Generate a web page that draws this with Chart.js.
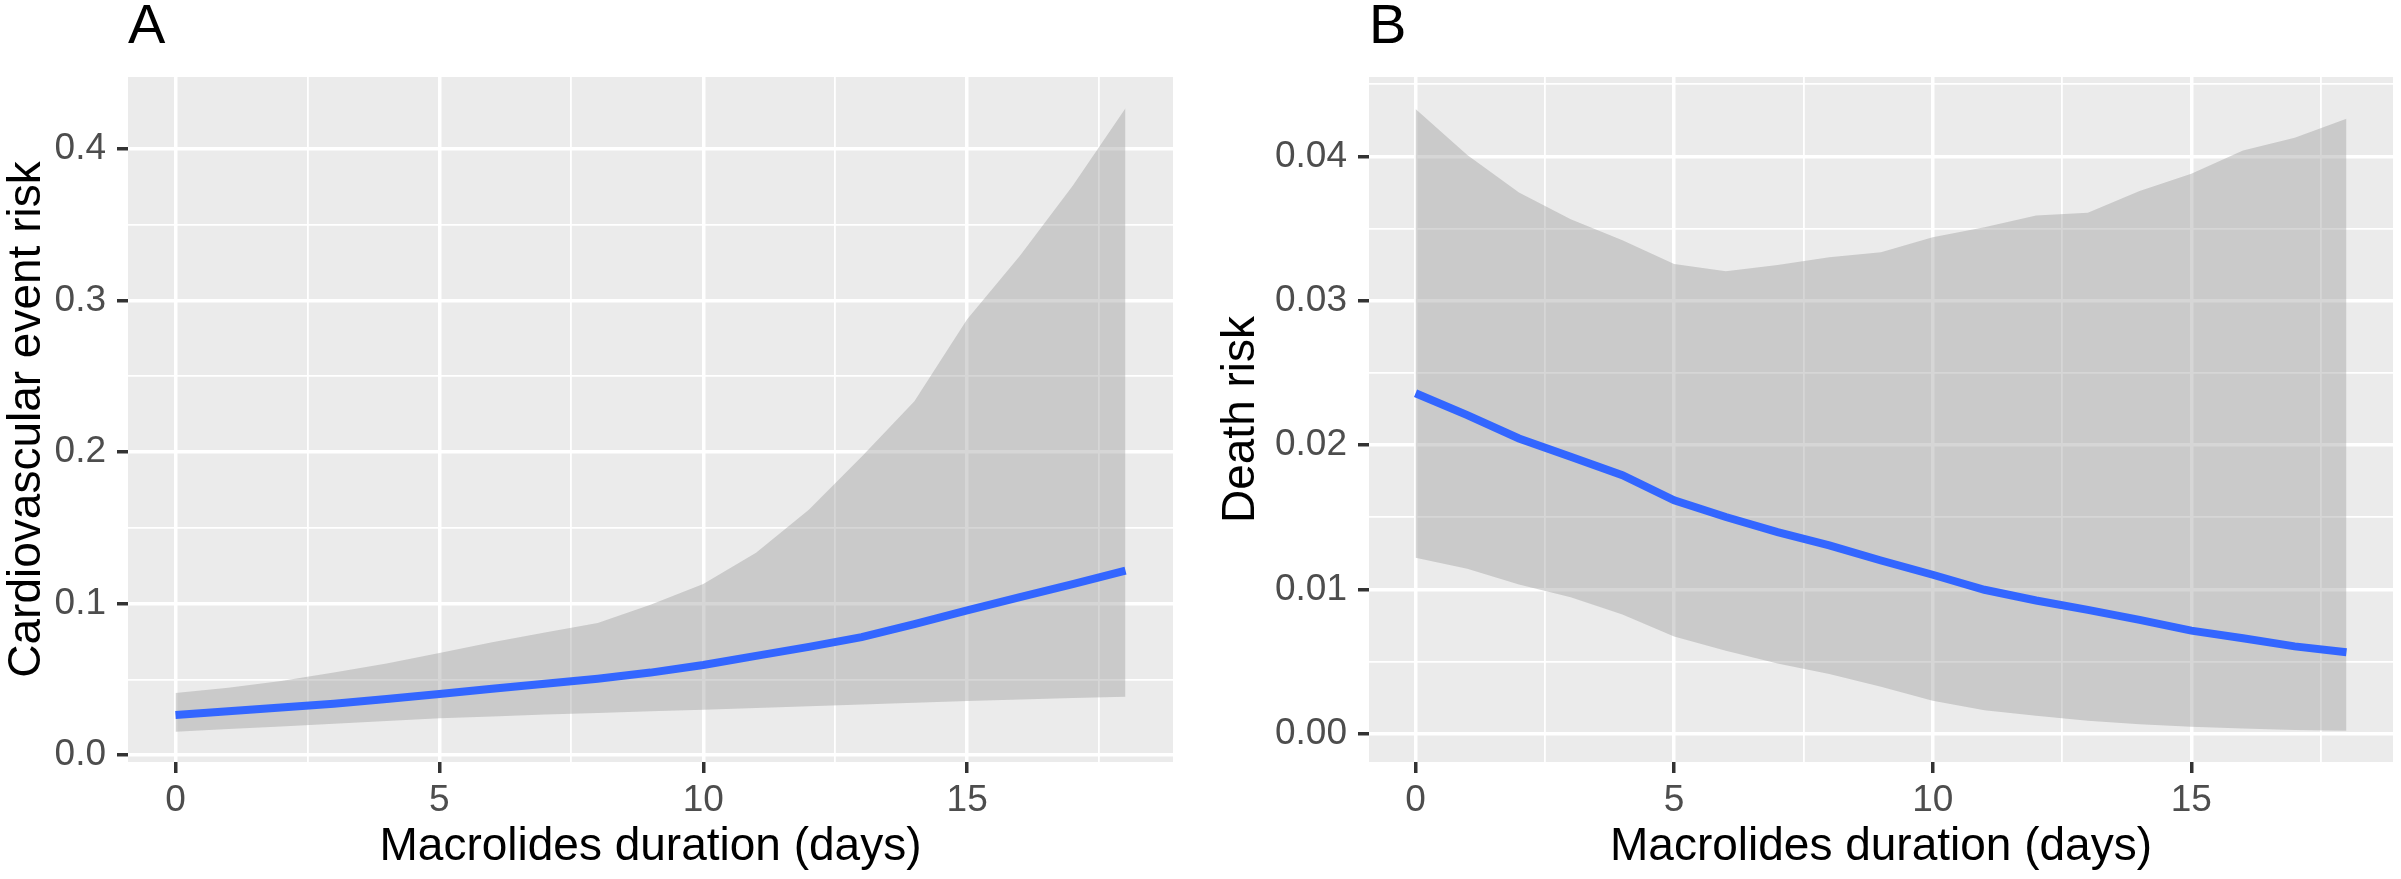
<!DOCTYPE html>
<html>
<head>
<meta charset="utf-8">
<script src="https://cdn.jsdelivr.net/npm/chart.js@4.4.1/dist/chart.umd.min.js"></script>
<style>
  html, body { margin: 0; padding: 0; background: #fff; }
  #wrap { position: relative; width: 2401px; height: 879px; overflow: hidden; }
  canvas { position: absolute; top: 0; }
  #panelA { left: 0; }
  #panelB { left: 1200px; }
</style>
</head>
<body>
<div id="wrap">
  <canvas id="panelA" width="1200" height="879"></canvas>
  <canvas id="panelB" width="1201" height="879"></canvas>
</div>
<script>
// days of macrolide use (x axis, same for both panels)
const DAYS = [0, 1, 2, 3, 4, 5, 6, 7, 8, 9, 10, 11, 12, 13, 14, 15, 16, 17, 18];

// panel A - cardiovascular event risk, fitted line + confidence band
const CV_RISK  = [0.0265, 0.029, 0.0315, 0.034, 0.037, 0.0403, 0.0438, 0.0472, 0.0505, 0.0545, 0.0595, 0.0655, 0.0715, 0.0779, 0.0865, 0.0955, 0.1043, 0.1128, 0.1217];
const CV_UPPER = [0.041, 0.0445, 0.049, 0.0545, 0.0605, 0.0675, 0.0745, 0.081, 0.0873, 0.0992, 0.113, 0.1335, 0.162, 0.197, 0.2336, 0.2876, 0.3295, 0.3757, 0.4269];
const CV_LOWER = [0.0155, 0.0173, 0.019, 0.0208, 0.0226, 0.0244, 0.0256, 0.0268, 0.0279, 0.029, 0.030, 0.0312, 0.0323, 0.0335, 0.0346, 0.0358, 0.0368, 0.0377, 0.0385];

// panel B - death risk
const DEATH_RISK  = [0.02359, 0.02208, 0.02046, 0.01919, 0.01792, 0.01618, 0.01502, 0.01398, 0.01306, 0.01201, 0.01102, 0.00998, 0.00924, 0.00859, 0.00789, 0.00715, 0.00662, 0.00606, 0.00565];
const DEATH_UPPER = [0.04329, 0.0401, 0.0375, 0.03565, 0.0342, 0.03255, 0.03204, 0.03248, 0.03301, 0.03336, 0.0344, 0.0351, 0.0359, 0.0361, 0.0376, 0.0388, 0.0404, 0.0413, 0.0426];
const DEATH_LOWER = [0.0122, 0.01144, 0.01035, 0.00947, 0.00826, 0.00674, 0.00576, 0.00488, 0.00414, 0.00326, 0.00229, 0.00164, 0.00125, 0.0009, 0.00067, 0.00049, 0.00037, 0.00026, 0.00021];

// tick values and labels
const X_TICKS = [0, 5, 10, 15];
const X_LABELS = ["0", "5", "10", "15"];
const X_MINOR = [2.5, 7.5, 12.5, 17.5];
const CV_TICKS = [0, 0.1, 0.2, 0.3, 0.4];
const CV_LABELS = ["0.0", "0.1", "0.2", "0.3", "0.4"];
const CV_MINOR = [0.05, 0.15, 0.25, 0.35];
const DEATH_TICKS = [0, 0.01, 0.02, 0.03, 0.04];
const DEATH_LABELS = ["0.00", "0.01", "0.02", "0.03", "0.04"];
const DEATH_MINOR = [0.005, 0.015, 0.025, 0.035, 0.045];

const FONT = "'Liberation Sans', Arial, Helvetica, sans-serif";

const panelBackground = {
  id: 'panelBackground',
  beforeDraw(chart) {
    const a = chart.chartArea;
    const ctx = chart.ctx;
    ctx.save();
    ctx.fillStyle = '#EBEBEB';
    ctx.fillRect(a.left, a.top, a.right - a.left, a.bottom - a.top);
    ctx.restore();
  }
};

const panelTag = {
  id: 'panelTag',
  afterDraw(chart, args, opts) {
    const ctx = chart.ctx;
    ctx.save();
    ctx.font = '56px ' + FONT;
    ctx.fillStyle = '#000';
    ctx.textBaseline = 'alphabetic';
    ctx.textAlign = 'left';
    ctx.fillText(opts.text, chart.chartArea.left, 43);
    ctx.restore();
  }
};

function xy(ys) {
  return DAYS.map((d, i) => ({ x: d, y: ys[i] }));
}

function axisTicks(major, minor) {
  return function (scale) {
    scale.ticks = major.concat(minor).sort((a, b) => a - b).map(v => ({ value: v }));
  };
}

function isMajor(major, v) {
  return major.some(m => Math.abs(m - v) < 1e-9);
}

function makeGrid(major) {
  return {
    color: '#FFFFFF',
    lineWidth: c => isMajor(major, c.tick.value) ? 3.5 : 1.8,
    tickColor: c => isMajor(major, c.tick.value) ? '#333333' : 'rgba(0,0,0,0)',
    tickWidth: 3.5,
    tickLength: 11
  };
}

function labelFor(major, labels) {
  return function (value) {
    const i = major.findIndex(m => Math.abs(m - value) < 1e-9);
    return i >= 0 ? labels[i] : '';
  };
}

function buildPanel(id, cfg) {
  new Chart(document.getElementById(id), {
    type: 'line',
    data: {
      datasets: [
        {
          data: xy(cfg.fit),
          borderColor: '#3366FF',
          borderWidth: 8,
          pointRadius: 0,
          fill: false,
          tension: 0
        },
        {
          data: xy(cfg.upper),
          borderColor: 'rgba(0,0,0,0)',
          borderWidth: 0,
          pointRadius: 0,
          backgroundColor: 'rgba(153,153,153,0.4)',
          fill: '+1',
          tension: 0
        },
        {
          data: xy(cfg.lower),
          borderColor: 'rgba(0,0,0,0)',
          borderWidth: 0,
          pointRadius: 0,
          fill: false,
          tension: 0
        }
      ]
    },
    options: {
      responsive: false,
      animation: false,
      devicePixelRatio: 1,
      layout: { padding: { top: 77, right: cfg.padRight, bottom: 0, left: 0 } },
      plugins: {
        legend: { display: false },
        tooltip: { enabled: false },
        panelTag: { text: cfg.tag }
      },
      scales: {
        x: {
          type: 'linear',
          min: -0.9,
          max: 18.9,
          afterBuildTicks: axisTicks(X_TICKS, X_MINOR),
          afterFit: s => { s.height = 117; },
          grid: makeGrid(X_TICKS),
          border: { display: false },
          ticks: {
            autoSkip: false,
            maxRotation: 0,
            padding: 6,
            color: '#4D4D4D',
            font: { family: FONT, size: 37 },
            callback: labelFor(X_TICKS, X_LABELS)
          },
          title: {
            display: true,
            text: 'Macrolides duration (days)',
            color: '#000',
            font: { family: FONT, size: 46 },
            padding: { top: 0, bottom: 4 }
          }
        },
        y: {
          type: 'linear',
          min: cfg.yMin,
          max: cfg.yMax,
          afterBuildTicks: axisTicks(cfg.yTicks, cfg.yMinor),
          afterFit: s => { s.width = cfg.yWidth; },
          grid: makeGrid(cfg.yTicks),
          border: { display: false },
          ticks: {
            autoSkip: false,
            padding: 11,
            color: '#4D4D4D',
            font: { family: FONT, size: 37 },
            callback: labelFor(cfg.yTicks, cfg.yLabels)
          },
          title: {
            display: true,
            text: cfg.yTitle,
            color: '#000',
            font: { family: FONT, size: 46 },
            padding: { top: cfg.titlePad, bottom: 0 }
          }
        }
      }
    },
    plugins: [panelBackground, panelTag]
  });
}

buildPanel('panelA', {
  tag: 'A',
  fit: CV_RISK, upper: CV_UPPER, lower: CV_LOWER,
  yMin: -0.0045, yMax: 0.4475,
  yTicks: CV_TICKS, yLabels: CV_LABELS, yMinor: CV_MINOR,
  yTitle: 'Cardiovascular event risk',
  yWidth: 128, padRight: 27, titlePad: 0
});

buildPanel('panelB', {
  tag: 'B',
  fit: DEATH_RISK, upper: DEATH_UPPER, lower: DEATH_LOWER,
  yMin: -0.00195, yMax: 0.0455,
  yTicks: DEATH_TICKS, yLabels: DEATH_LABELS, yMinor: DEATH_MINOR,
  yTitle: 'Death risk',
  yWidth: 169, padRight: 8, titlePad: 14
});
</script>
</body>
</html>
